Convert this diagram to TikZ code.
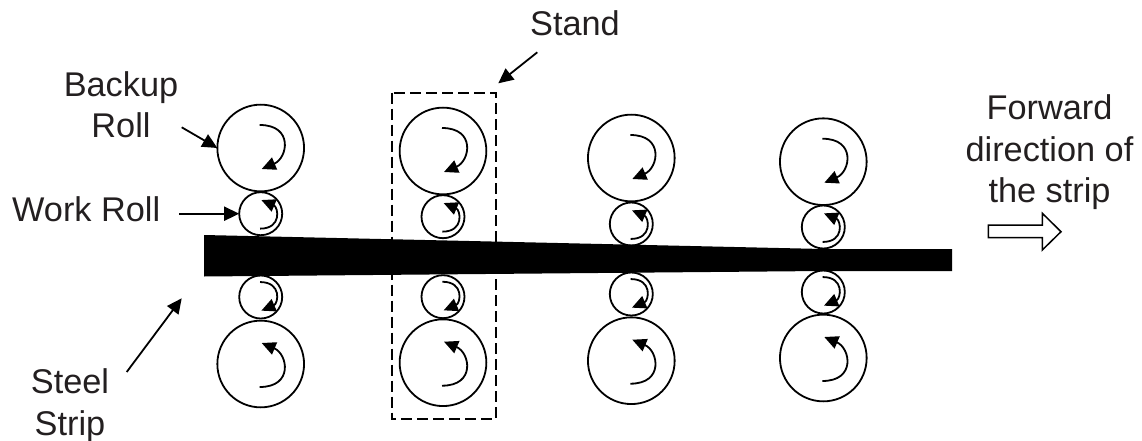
\documentclass[tikz,border=0pt]{standalone}
\usepackage{fontspec}
\setmainfont{Liberation Sans}
\usepackage{xcolor}
\usetikzlibrary{arrows.meta}
\definecolor{lblgray}{HTML}{231F20}
\tikzset{
 backuproll/.style={draw=black, circle, line width=1.8pt, inner sep=0, outer sep=0, minimum size=86.7pt},
 workroll/.style={draw=black, circle, line width=1.8pt, inner sep=0, outer sep=0, minimum size=43pt},
 lbl/.style={text=lblgray, align=center, inner sep=0, font=\fontsize{34.3}{41}\selectfont},
 pointer/.style={draw=black, line width=1.8pt, -{Triangle[length=15pt,width=14pt]}},
 spinline/.style={draw=black, line width=1.8pt, -{Triangle[length=14pt,width=13pt]}},
 spin/.pic={\draw[spinline] (-1,23) .. controls (33,23) and (27,-10) .. (1,-21);}
}
\begin{document}
\begin{tikzpicture}[x=1pt,y=-1pt]
\useasboundingbox (0,0) rectangle (1142,441);
\draw[black, line width=1.7pt, dash pattern=on 11pt off 5pt] (391.7,92.7) rectangle (496,419);
\foreach \n/\x/\ya/\yb/\yc/\yd in {1/260.7/148/213.7/297/364, 2/443/151/216.7/296.7/362.7, 3/631.3/158/224/294/360.7, 4/823.3/161.7/227/292/358} {
 \node[backuproll] (bu\n) at (\x,\ya) {};
 \node[workroll] (wu\n) at (\x,\yb) {};
 \node[workroll] (wl\n) at (\x,\yc) {};
 \node[backuproll] (bl\n) at (\x,\yd) {};
 \pic[yscale=-1] at (\x,\ya) {spin};
 \pic[scale=.65] at (\x,\yb) {spin};
 \pic[xscale=.65,yscale=-.65] at (\x,\yc) {spin};
 \pic at (\x,\yd) {spin};
}
\fill[black] (204,235)--(823,249)--(952,249)--(952,271)--(823,271)--(204,276.5)--cycle;
\draw[black, line width=1.5pt, fill=white] (988.3,225)--(1042.3,225)--(1042.3,213.3)--(1061,231.7)--(1042.3,250)--(1042.3,237.7)--(988.3,237.7)--cycle;
\node[lbl, anchor=base] (backuplbl) at (121,96.7) {Backup};
\node[lbl, anchor=base] (backuplbltwo) at (121,137.3) {Roll};
\node[lbl, anchor=base west] (worklbl) at (12,221.7) {Work Roll};
\node[lbl, anchor=base] (steellbl) at (70,393) {Steel};
\node[lbl, anchor=base] (steellbltwo) at (70,435) {Strip};
\node[lbl, anchor=base] (standlbl) at (575,36) {Stand};
\node[lbl, anchor=base] (fwdlbl) at (1049.5,120) {Forward};
\node[lbl, anchor=base] (fwdlbltwo) at (1049.5,161.7) {direction of};
\node[lbl, anchor=base] (fwdlblthree) at (1049.5,202.7) {the strip};
\coordinate (backuptail) at (181.7,127.3);
\coordinate (worktail) at (179,213.7);
\coordinate (steeltail) at (126.7,372);
\coordinate (steelhead) at (181.7,298.3);
\coordinate (standtail) at (537.3,52.3);
\coordinate (standhead) at (498.3,83.3);
\draw[pointer] (backuptail) -- (bu1.west);
\draw[pointer] (worktail) -- (wu1.west);
\draw[pointer] (steeltail) -- (steelhead);
\draw[pointer] (standtail) -- (standhead);
\end{tikzpicture}
\end{document}
